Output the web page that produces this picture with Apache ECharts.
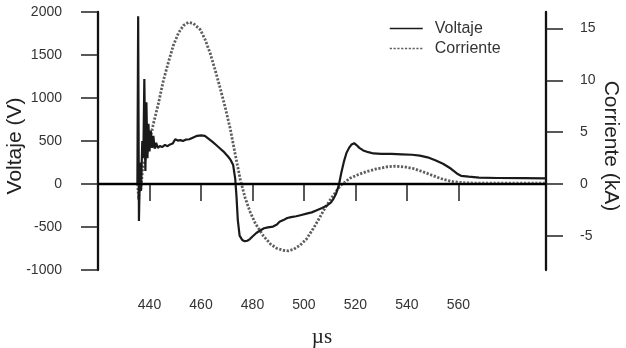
<!DOCTYPE html>
<html><head><meta charset="utf-8">
<script src="https://cdn.jsdelivr.net/npm/echarts@6/dist/echarts.min.js"></script>
<style>html,body{margin:0;padding:0;background:#fff}#c{width:626px;height:348px}</style>
</head><body><div id="c"></div>
<script>
const xTicks = [440, 460, 480, 500, 520, 540, 560];
const rightTicks = [-5, 0, 5, 10, 15];
const seriesNames = ['Voltaje', 'Corriente'];
const voltageTime = [435.3,435.6,435.9,436.3,436.7,437.2,437.6,438.0,438.4,438.8,439.2,439.6,440.0,440.5,441.0,441.5,442.0,442.6,443.2,444.0,445.0,446.0,447.0,448.0,449.0,450.0,451.0,452.0,453.0,454.0,455.5,457.0,458.5,460.0,461.5,463.0,464.5,466.0,467.5,469.0,470.5,471.5,472.5,473.3,473.8,474.3,475.0,476.0,477.0,478.0,479.0,480.0,481.5,483.0,484.5,486.0,488.0,489.5,490.5,492.0,493.5,495.0,497.0,499.0,501.0,503.0,505.0,507.0,509.0,510.5,511.5,512.5,513.5,514.5,515.5,516.5,517.5,518.5,519.5,520.5,521.5,523.0,525.0,527.0,530.0,534.0,538.0,542.0,545.0,548.0,551.0,554.0,557.0,559.5,561.0,564.0,568.0,575.0,585.0,594.0];
const voltageValues = [0,1950,-430,250,-80,500,300,1220,150,950,300,700,380,620,420,560,410,480,420,440,430,455,440,460,470,520,505,510,500,515,520,540,560,565,560,525,490,450,410,370,320,280,220,60,-150,-420,-600,-650,-665,-660,-640,-610,-570,-540,-515,-505,-495,-470,-440,-420,-395,-385,-375,-360,-345,-330,-305,-280,-250,-215,-170,-110,-20,130,260,360,420,460,475,450,420,390,370,355,350,350,345,340,330,310,275,235,180,120,95,85,75,70,68,65];
const currentTime = [435.4,435.8,436.2,436.7,437.3,438.3,440.3,441.6,443.5,445.4,447.4,449.3,451.3,453.2,455.1,457.0,459.7,461.5,463.6,465.5,467.4,469.4,471.3,473.2,475.2,477.1,479.1,481.1,484.2,487.0,489.4,492.0,493.9,496.0,498.5,501.0,503.6,506.2,508.2,510.0,511.4,514.0,517.8,521.0,524.3,528.0,532.0,535.3,539.0,542.4,546.0,550.2,554.0,557.9,563.1,570.0,594.0];
const currentValues = [0,-1.5,0.5,-0.5,1.5,2.3,4.4,5.9,7.8,10.0,11.8,13.4,14.6,15.3,15.6,15.5,14.9,14.0,12.6,11.0,9.3,7.4,5.4,3.0,0.5,-1.3,-2.7,-3.8,-5.0,-5.8,-6.2,-6.4,-6.45,-6.3,-5.9,-5.3,-4.3,-3.2,-2.3,-1.6,-1.1,-0.2,0.55,0.9,1.2,1.45,1.65,1.72,1.65,1.5,1.2,0.8,0.45,0.22,0.1,0.08,0.08];

const FONT = '"Liberation Sans", Arial, sans-serif';
const chart = echarts.init(document.getElementById('c'), null, {renderer: 'canvas'});
const axisLine = {show: true, lineStyle: {color: '#111', width: 2.3}};
const tick = {show: true, inside: false, length: 17, lineStyle: {color: '#222', width: 1.5}};
const lbl = {color: '#333', fontSize: 14, fontFamily: FONT, formatter: v => String(v)};
chart.setOption({
  animation: false,
  backgroundColor: '#fff',
  grid: {left: 98, top: 12, width: 448, height: 258, containLabel: false, outerBoundsMode: 'none'},
  legend: {
    orient: 'vertical', left: 384, top: 15.5, itemWidth: 33, itemHeight: 14, itemGap: 4,
    textStyle: {fontSize: 16, color: '#333', fontFamily: FONT, padding: [0, 0, 0, 7]},
    itemStyle: {color: 'transparent', borderColor: 'transparent', borderWidth: 0, opacity: 0},
    lineStyle: {width: 1.5},
    data: seriesNames
  },
  xAxis: {
    type: 'value', min: 420, max: 594,
    name: 'µs', nameLocation: 'middle', nameGap: 57, nameMoveOverlap: false,
    nameTextStyle: {fontSize: 21, color: '#222', fontFamily: '"Liberation Serif", "Times New Roman", serif'},
    axisLine: axisLine,
    axisTick: Object.assign({}, tick, {customValues: xTicks}),
    axisLabel: Object.assign({}, lbl, {margin: 28, customValues: xTicks}),
    splitLine: {show: false}
  },
  yAxis: [{
    type: 'value', min: -1000, max: 2000, interval: 500, position: 'left',
    name: 'Voltaje (V)', nameLocation: 'middle', nameGap: 72, nameRotate: 90, nameMoveOverlap: false,
    nameTextStyle: {fontSize: 21, color: '#222', fontFamily: FONT, padding: [0, 10, 0, 0]},
    axisLine: axisLine, axisTick: tick,
    axisLabel: Object.assign({}, lbl, {margin: 36}),
    splitLine: {show: false}
  }, {
    type: 'value', min: -8.3, max: 16.6, position: 'right', alignTicks: false,
    name: 'Corriente (kA)', nameLocation: 'middle', nameGap: 54, nameRotate: -90, nameMoveOverlap: false,
    nameTextStyle: {fontSize: 21, color: '#222', fontFamily: FONT, padding: [0, 0, 0, 10]},
    axisLine: axisLine,
    axisTick: Object.assign({}, tick, {customValues: rightTicks}),
    axisLabel: Object.assign({}, lbl, {margin: 34, customValues: rightTicks}),
    splitLine: {show: false}
  }],
  series: [{
    name: seriesNames[0], type: 'line', yAxisIndex: 0, symbol: 'none', showSymbol: false,
    data: voltageTime.map((t, i) => [t, voltageValues[i]]),
    lineStyle: {color: '#1a1a1a', width: 2.2},
    itemStyle: {color: '#1a1a1a'},
    z: 3,
    markLine: {
      silent: true, symbol: 'none', label: {show: false},
      lineStyle: {color: '#000', width: 2.2, type: 'solid'},
      data: [{yAxis: 0}]
    }
  }, {
    name: seriesNames[1], type: 'line', yAxisIndex: 1, symbol: 'none', showSymbol: false,
    data: currentTime.map((t, i) => [t, currentValues[i]]),
    lineStyle: {color: '#5e5e5e', width: 2.8, type: [2.2, 1.6]},
    itemStyle: {color: '#5e5e5e'},
    z: 2
  }]
});
</script></body></html>
